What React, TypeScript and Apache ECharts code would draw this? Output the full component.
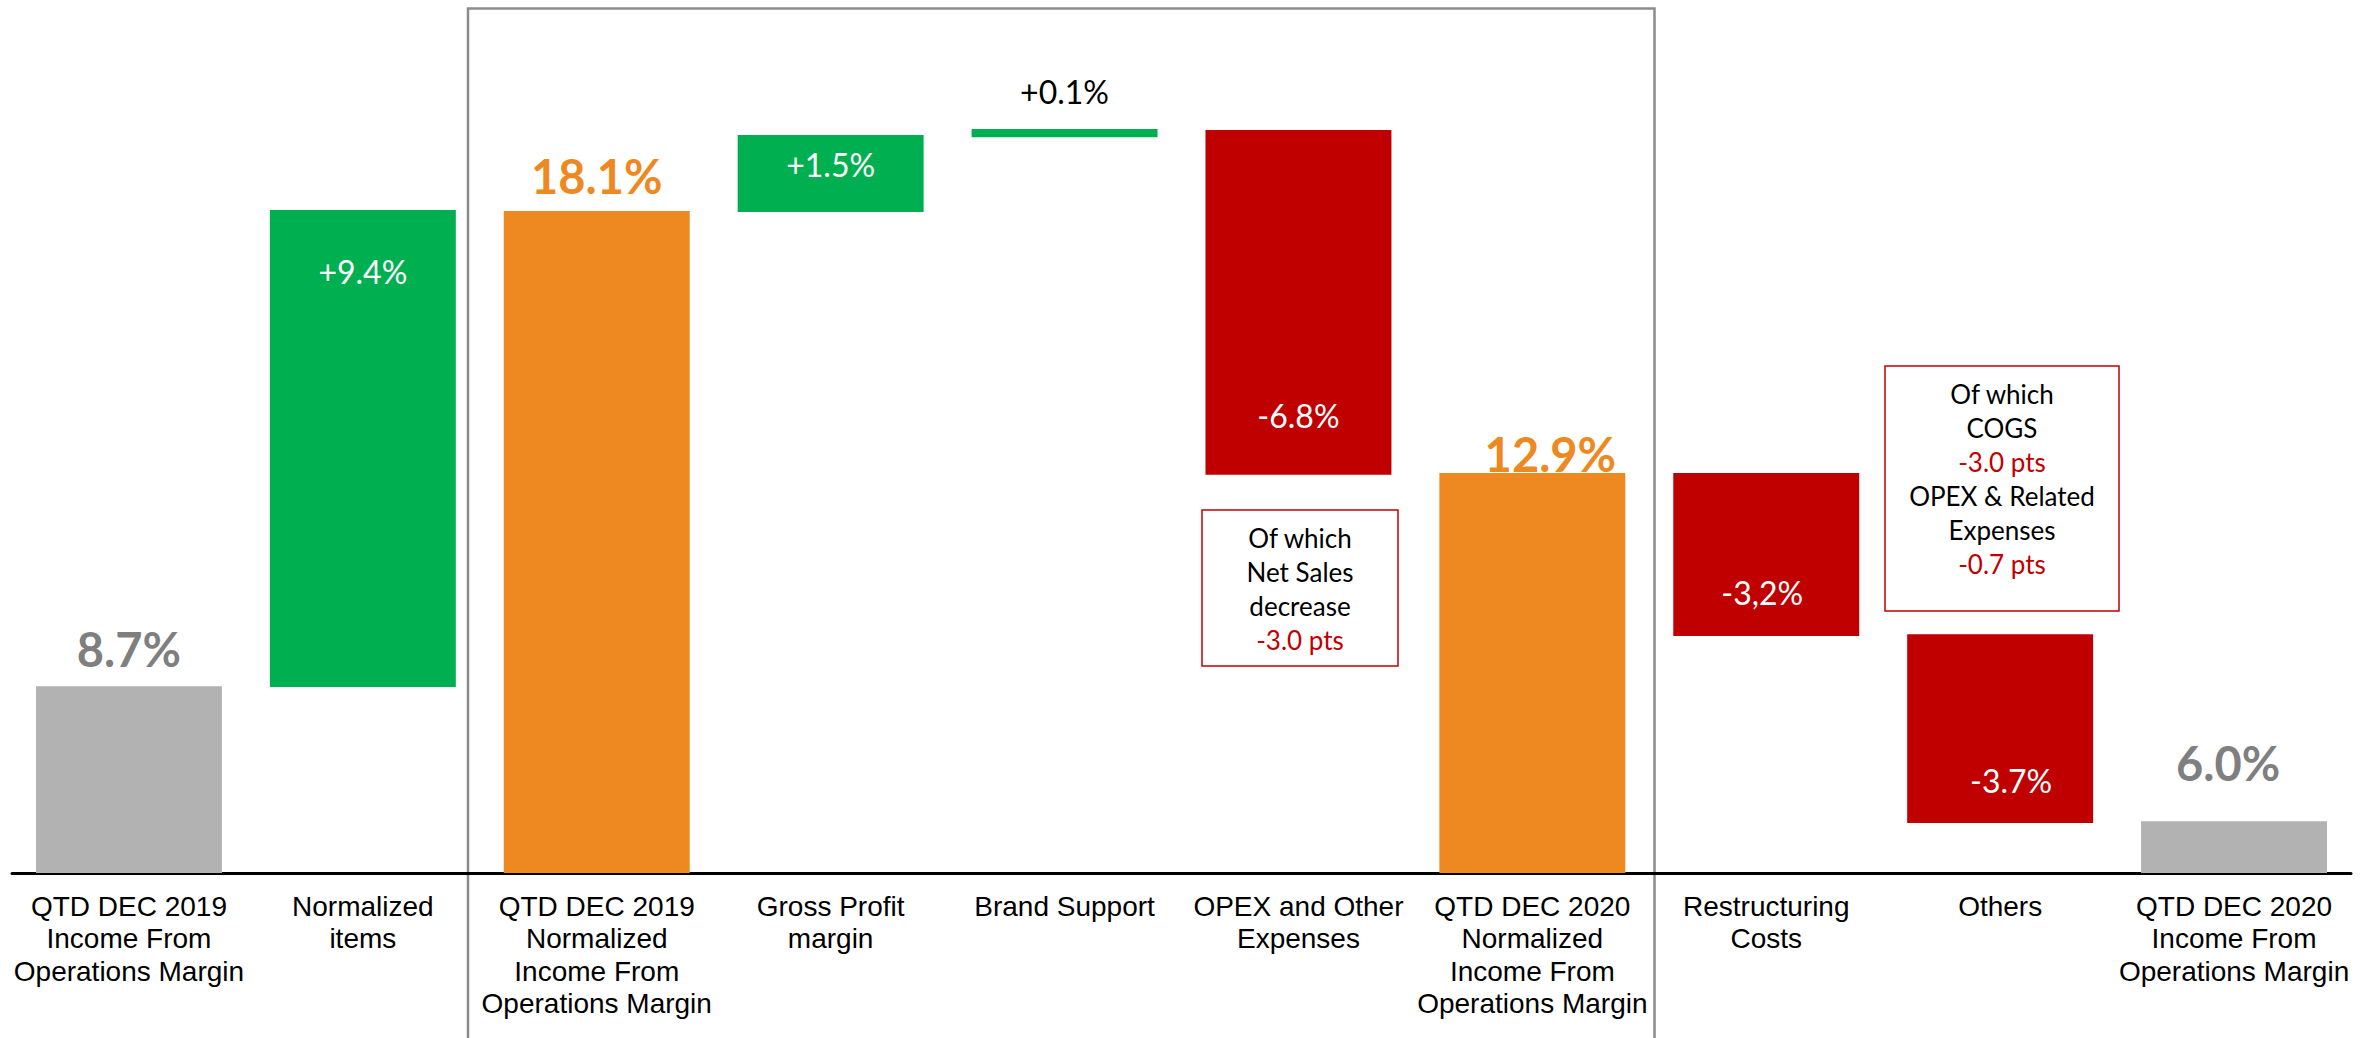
import React, { useEffect, useRef } from "react";
import * as echarts from "echarts";

// Categories (x axis)
const categories = [
  "QTD DEC 2019\nIncome From\nOperations Margin",
  "Normalized\nitems",
  "QTD DEC 2019\nNormalized\nIncome From\nOperations Margin",
  "Gross Profit\nmargin",
  "Brand Support",
  "OPEX and Other\nExpenses",
  "QTD DEC 2020\nNormalized\nIncome From\nOperations Margin",
  "Restructuring\nCosts",
  "Others",
  "QTD DEC 2020\nIncome From\nOperations Margin",
];

// Printed value labels
const valueLabels = ["8.7%", "+9.4%", "18.1%", "+1.5%", "+0.1%", "-6.8%", "12.9%", "-3,2%", "-3.7%", "6.0%"];

// Bar extents as drawn in the picture (the picture is not to scale with its labels)
const barBottoms = [0, 5.17, 0, 18.36, 20.44, 11.06, 0, 6.58, 1.39, 0];
const barTops = [5.19, 18.42, 18.39, 20.5, 20.67, 20.64, 11.11, 11.11, 6.63, 1.44];

// Bar kinds: total (gray), normalized total (orange), increase (green), decrease (red)
const barKinds = ["total", "up", "norm", "up", "up", "down", "norm", "down", "down", "total"];

const COLORS: Record<string, string> = {
  total: "#B2B2B2",
  norm: "#EE8820",
  up: "#00B050",
  down: "#C00000",
};

const VALUE_FONT = "Lato, 'Noto Sans', sans-serif";
const AXIS_FONT = "'Liberation Sans', Arial, sans-serif";

// Label placement per bar
const labelStyles: any[] = [
  { position: "top", distance: 14, color: "#7F7F7F", fontSize: 47, fontWeight: "bold" },
  { position: "insideTop", distance: 46, color: "#FFFFFF", fontSize: 32, fontWeight: "normal" },
  { position: "top", distance: 11, color: "#EE8820", fontSize: 47, fontWeight: "bold" },
  { position: "insideTop", distance: 13, color: "#FFFFFF", fontSize: 32, fontWeight: "normal" },
  { position: "top", distance: 21, color: "#000000", fontSize: 32, fontWeight: "normal" },
  { position: "insideBottom", distance: 43, color: "#FFFFFF", fontSize: 32, fontWeight: "normal" },
  { position: "top", distance: -4, color: "#EE8820", fontSize: 47, fontWeight: "bold", offset: [18, 0] },
  { position: "insideBottom", distance: 28, color: "#FFFFFF", fontSize: 32, fontWeight: "normal", offset: [-4, 0] },
  { position: "insideBottom", distance: 26, color: "#FFFFFF", fontSize: 32, fontWeight: "normal", offset: [11, 0] },
  { position: "top", distance: 35, color: "#7F7F7F", fontSize: 47, fontWeight: "bold", offset: [-6, 0] },
];

// Annotation texts
const noteA = [
  { t: "Of which", red: false },
  { t: "Net Sales", red: false },
  { t: "decrease", red: false },
  { t: "-3.0 pts", red: true },
];
const noteB = [
  { t: "Of which", red: false },
  { t: "COGS", red: false },
  { t: "-3.0 pts", red: true },
  { t: "OPEX & Related", red: false },
  { t: "Expenses", red: false },
  { t: "-0.7 pts", red: true },
];

function noteText(lines: { t: string; red: boolean }[]) {
  return lines.map((l) => (l.red ? `{r|${l.t}}` : `{k|${l.t}}`)).join("\n");
}

const noteRich = {
  k: { fontSize: 26, lineHeight: 34, fill: "#000000", fontFamily: VALUE_FONT },
  r: { fontSize: 26, lineHeight: 34, fill: "#C00000", fontFamily: VALUE_FONT },
};

export default function App() {
  const ref = useRef<HTMLDivElement>(null);

  useEffect(() => {
    if (!ref.current) return;
    const chart = echarts.init(ref.current, undefined, { renderer: "svg" });

    const visibleData = barTops.map((top, i) => {
      const ls = labelStyles[i];
      return {
        value: +(top - barBottoms[i]).toFixed(2),
        itemStyle: { color: COLORS[barKinds[i]] },
        label: {
          show: true,
          formatter: valueLabels[i],
          position: ls.position,
          distance: ls.distance,
          offset: ls.offset || [0, 0],
          color: ls.color,
          fontSize: ls.fontSize,
          lineHeight: ls.fontSize,
          fontWeight: ls.fontWeight,
          fontFamily: VALUE_FONT,
        },
      };
    });

    chart.setOption({
      animation: false,
      backgroundColor: "#FFFFFF",
      grid: { left: 12, right: 28, top: 9, bottom: 165, containLabel: false },
      xAxis: {
        type: "category",
        data: categories,
        axisLine: { show: true, lineStyle: { color: "#000000", width: 3 } },
        axisTick: { show: false },
        axisLabel: {
          interval: 0,
          margin: 17,
          color: "#000000",
          fontSize: 28,
          lineHeight: 32.5,
          fontFamily: AXIS_FONT,
          align: "center",
          verticalAlign: "top",
        },
        splitLine: { show: false },
      },
      yAxis: {
        type: "value",
        min: 0,
        max: 24,
        show: false,
        splitLine: { show: false },
      },
      series: [
        {
          type: "bar",
          stack: "w",
          data: barBottoms,
          itemStyle: { color: "transparent" },
          barCategoryGap: "20.5%",
          silent: true,
        },
        {
          type: "bar",
          stack: "w",
          data: visibleData,
          barCategoryGap: "20.5%",
        },
      ],
      graphic: [
        {
          type: "rect",
          z: -1,
          shape: { x: 468, y: 8.5, width: 1186.5, height: 1200 },
          style: { fill: "none", stroke: "#8C8C8C", lineWidth: 2.5 },
        },
        {
          type: "rect",
          shape: { x: 1202, y: 510, width: 196, height: 156 },
          style: { fill: "#FFFFFF", stroke: "#C00000", lineWidth: 1.5 },
        },
        {
          type: "text",
          x: 1300,
          y: 589,
          style: {
            text: noteText(noteA),
            rich: noteRich,
            align: "center",
            verticalAlign: "middle",
            fontFamily: VALUE_FONT,
          },
        },
        {
          type: "rect",
          shape: { x: 1885, y: 366, width: 234, height: 245 },
          style: { fill: "#FFFFFF", stroke: "#C00000", lineWidth: 1.5 },
        },
        {
          type: "text",
          x: 2002,
          y: 479,
          style: {
            text: noteText(noteB),
            rich: noteRich,
            align: "center",
            verticalAlign: "middle",
            fontFamily: VALUE_FONT,
          },
        },
      ],
    });

    return () => chart.dispose();
  }, []);

  return (
    <div
      ref={ref}
      style={{ position: "absolute", left: 0, top: 0, width: 2379, height: 1038, background: "#FFFFFF" }}
    />
  );
}
